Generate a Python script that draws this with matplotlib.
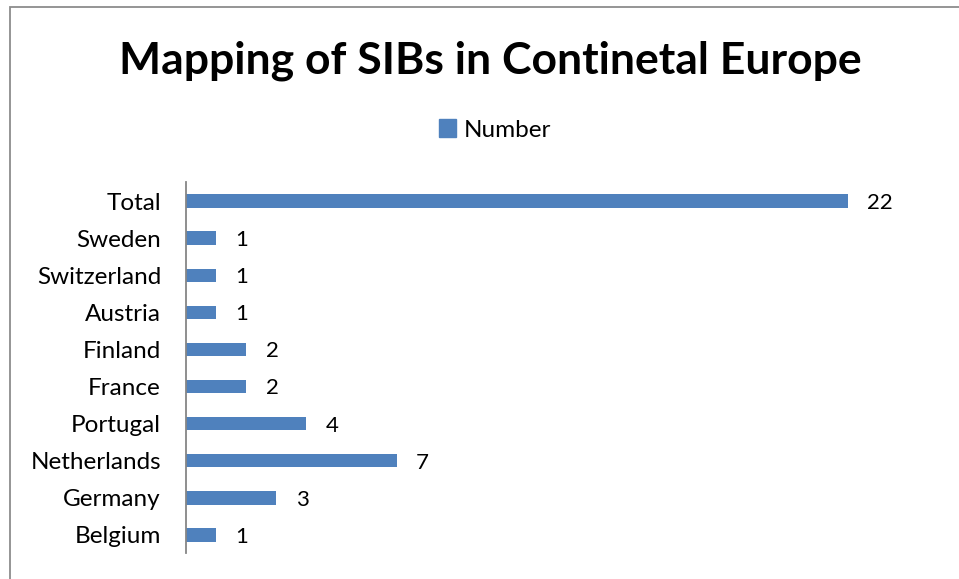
import matplotlib.pyplot as plt
from matplotlib.patches import Rectangle, Patch

plt.rcParams['font.family'] = ['Lato', 'DejaVu Sans']

countries = ["Belgium", "Germany", "Netherlands", "Portugal", "France",
             "Finland", "Austria", "Switzerland", "Sweden", "Total"]
number = [1, 3, 7, 4, 2, 2, 1, 1, 1, 22]

bar_color = "#4F81BD"

fig = plt.figure(figsize=(9.59, 5.79), dpi=100)

# chart area frame (runs off the right and bottom edges)
fig.patches.append(Rectangle((10 / 959, -0.1), 1.2, 1.1 - 7 / 579,
                             transform=fig.transFigure, fill=False,
                             edgecolor="#8c8c8c", linewidth=1.3))

ax = fig.add_axes([186 / 959, 1 - 553.5 / 579, 752 / 959, 371 / 579])
pos = range(len(countries))
ax.barh(pos, number, height=0.36, color=bar_color)
for y, v in zip(pos, number):
    ax.text(v + 0.65, y - 0.05, str(v), va="center", ha="left", fontsize=16)

ax.set_xlim(0, 25)
ax.set_ylim(-0.5, len(countries) - 0.5)
ax.set_yticks(list(pos))
ax.set_yticklabels(countries, fontsize=17.5)
ax.tick_params(axis="y", length=0, pad=18)
ax.set_xticks([])
for s in ["top", "right", "bottom"]:
    ax.spines[s].set_visible(False)
ax.spines["left"].set_color("#868686")
ax.spines["left"].set_linewidth(1.3)

fig.text(490 / 959, 1 - 61 / 579, "Mapping of SIBs in Continetal Europe",
         ha="center", va="center", fontsize=32, fontweight="bold")

fig.legend(handles=[Patch(color=bar_color, label="Number")],
           loc="center", bbox_to_anchor=(495 / 959, 1 - 130 / 579),
           frameon=False, fontsize=17.5, handlelength=0.7, handleheight=0.7,
           handletextpad=0.3)

fig.savefig("out.png", dpi=100)
